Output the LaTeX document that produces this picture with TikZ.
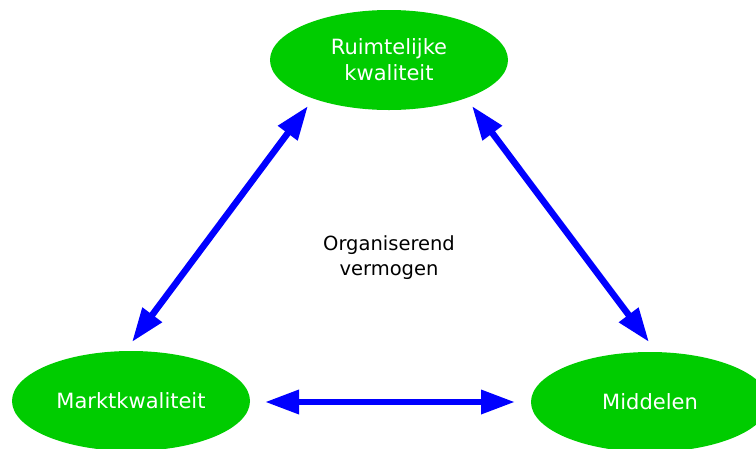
\documentclass[tikz,border=0pt]{standalone}
\usepackage{fontspec}
\setmainfont{DejaVu Sans}
\usetikzlibrary{shapes.geometric,arrows.meta}
\definecolor{leafgreen}{HTML}{00CC00}
\definecolor{arrowblue}{HTML}{0000FF}
\tikzset{
  pillar/.style={ellipse, fill=leafgreen, draw=none, minimum width=238pt,
    minimum height=100pt, inner sep=0pt, text=white, align=center,
    font=\fontsize{21}{26}\selectfont},
  link/.style={arrowblue, line width=6.5pt,
    {Triangle[length=34pt,width=23pt]}-{Triangle[length=34pt,width=23pt]}},
  core/.style={align=center, text=black, font=\fontsize{19.5}{25}\selectfont}
}
\begin{document}
\begin{tikzpicture}[x=1pt,y=-1pt]
  \useasboundingbox (0,0) rectangle (756,448);
  \clip (0,0) rectangle (756,448);
  % the three qualities
  \node[pillar] (ruimte) at (389,60) {Ruimtelijke\\kwaliteit};
  \node[pillar] (markt) at (131,401) {Marktkwaliteit};
  \node[pillar] (middel) at (650,402) {Middelen};
  % centre label
  \node[core] (org) at (389,258) {Organiserend\\vermogen};
  % arrow end points
  \coordinate (rL) at (308,106);
  \coordinate (mT) at (132,342);
  \coordinate (rR) at (472,106);
  \coordinate (dT) at (649,342);
  \coordinate (mR) at (265,402);
  \coordinate (dL) at (515,402);
  % two-way links
  \draw[link] (rL) -- (mT);
  \draw[link] (rR) -- (dT);
  \draw[link] (mR) -- (dL);
\end{tikzpicture}
\end{document}
